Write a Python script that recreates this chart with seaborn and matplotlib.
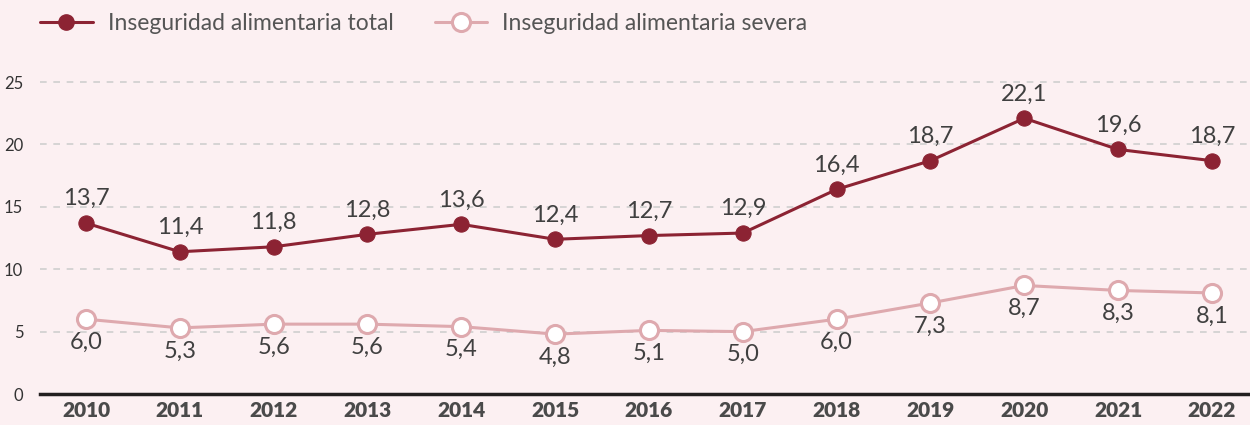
import numpy as np
import pandas as pd
import seaborn as sns
from matplotlib import pyplot as plt
from matplotlib.lines import Line2D

anios = [2010, 2011, 2012, 2013, 2014, 2015, 2016, 2017, 2018, 2019, 2020, 2021, 2022]
total = [13.7, 11.4, 11.8, 12.8, 13.6, 12.4, 12.7, 12.9, 16.4, 18.7, 22.1, 19.6, 18.7]
severa = [6.0, 5.3, 5.6, 5.6, 5.4, 4.8, 5.1, 5.0, 6.0, 7.3, 8.7, 8.3, 8.1]
etiquetas = ['Inseguridad alimentaria total', 'Inseguridad alimentaria severa']

fondo = '#FCF0F2'
c_total = '#8C2333'
c_severa = '#DEA9AE'
gris = '#404040'

sns.set_style('white')
plt.rcParams['font.family'] = ['Lato', 'DejaVu Sans']

df = pd.DataFrame({'anio': anios * 2,
                   'valor': total + severa,
                   'serie': [etiquetas[0]] * len(anios) + [etiquetas[1]] * len(anios)})

fig = plt.figure(figsize=(12.5, 4.25), dpi=100, facecolor=fondo)
ax = fig.add_axes([0.032, 0.0729, 0.968, 0.778])
ax.set_facecolor(fondo)

sns.lineplot(data=df[df['serie'] == etiquetas[0]], x='anio', y='valor', ax=ax,
             color=c_total, lw=2.2, marker='o', markersize=11,
             markerfacecolor=c_total, markeredgecolor=c_total, zorder=4)
sns.lineplot(data=df[df['serie'] == etiquetas[1]], x='anio', y='valor', ax=ax,
             color=c_severa, lw=2.2, marker='o', markersize=13,
             markerfacecolor='white', markeredgecolor=c_severa, markeredgewidth=2.2, zorder=4)

# etiquetas de valores
for x, y in zip(anios, total):
    ax.annotate(f'{y:.1f}'.replace('.', ','), (x, y), xytext=(0, 10), textcoords='offset points',
                ha='center', va='bottom', fontsize=17, color=gris)
for x, y in zip(anios, severa):
    ax.annotate(f'{y:.1f}'.replace('.', ','), (x, y), xytext=(0, -9), textcoords='offset points',
                ha='center', va='top', fontsize=17, color=gris)

ax.set_xlim(2009.51, 2022.405)
ax.set_ylim(0, 26.5)
ax.set_yticks([0, 5, 10, 15, 20, 25])
ax.set_xticks(anios)
ax.set_xticklabels([str(a) for a in anios], fontsize=15, fontweight='heavy', color='#4a4a4a')
ax.tick_params(axis='y', labelsize=12, colors='#333333', length=0, pad=12)
ax.tick_params(axis='x', length=0, pad=5)
for lab in ax.get_yticklabels():
    lab.set_horizontalalignment('right')
ax.set_xlabel('')
ax.set_ylabel('')
ax.grid(axis='y', linestyle=(0, (4, 4)), color='#cfcfcf', lw=1.2)
ax.grid(axis='x', visible=False)
for s in ['top', 'right', 'left']:
    ax.spines[s].set_visible(False)
ax.spines['bottom'].set_color('#231F20')
ax.spines['bottom'].set_linewidth(2.5)
if ax.get_legend():
    ax.get_legend().remove()

handles = [Line2D([], [], color=c_total, lw=2.2, marker='o', markersize=11,
                  markerfacecolor=c_total, markeredgecolor=c_total),
           Line2D([], [], color=c_severa, lw=2.2, marker='o', markersize=13,
                  markerfacecolor='white', markeredgecolor=c_severa, markeredgewidth=2.2)]
fig.legend(handles, etiquetas, loc='center left', bbox_to_anchor=(0.032, 0.945), ncol=2,
           frameon=False, fontsize=16.5, labelcolor='#555555', handlelength=2.3,
           handletextpad=0.65, columnspacing=1.8, borderpad=0, borderaxespad=0)

plt.savefig('out.png', dpi=100, facecolor=fondo)
